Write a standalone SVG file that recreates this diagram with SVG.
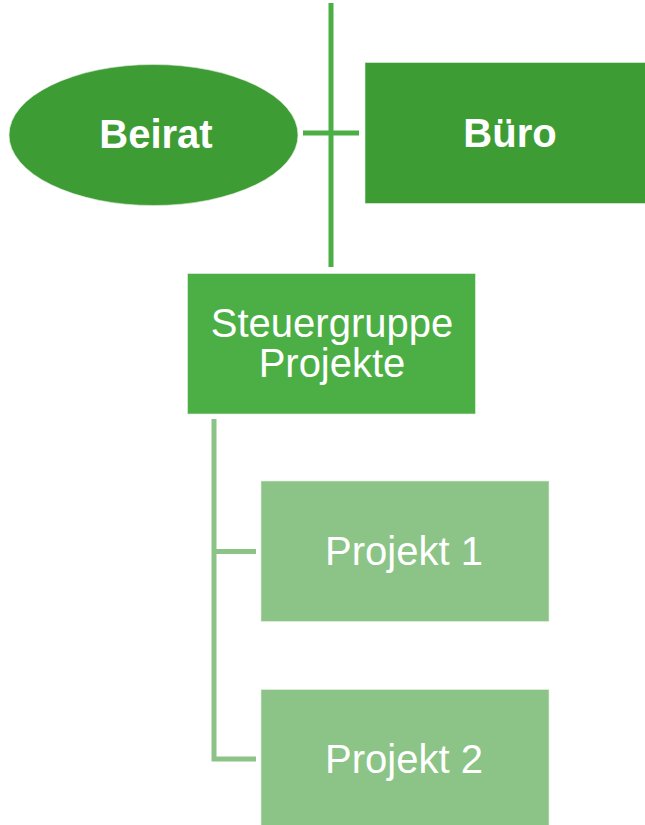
<svg xmlns="http://www.w3.org/2000/svg" width="645" height="825" viewBox="0 0 645 825">
  <style>
    .lbl { font-family: "Liberation Sans", Arial, sans-serif; fill: #ffffff; text-anchor: middle; font-size: 40px; }
    .bold { font-weight: bold; }
    .dark { fill: #3e9c35; stroke: #e6f2e4; stroke-width: 1; stroke-opacity: 0.6; }
    .mid { fill: #4caf46; stroke: #e6f2e4; stroke-width: 1; stroke-opacity: 0.6; }
    .light { fill: #8bc486; stroke: #e6f2e4; stroke-width: 1; stroke-opacity: 0.6; }
    .wire-mid { stroke: #4caf46; stroke-width: 5; fill: none; }
    .wire-light { stroke: #8bc486; stroke-width: 5; fill: none; }
  </style>

  <!-- connectors -->
  <g id="connectors">
    <line class="wire-mid" x1="331" y1="3" x2="331" y2="267"/>
    <line class="wire-mid" x1="303" y1="133" x2="359" y2="133"/>
    <path class="wire-light" d="M214 419 V759 H256 M214 551.5 H256"/>
  </g>

  <g id="beirat">
    <ellipse class="dark" cx="153.5" cy="135" rx="144.5" ry="70.5"/>
    <text class="lbl bold" x="156" y="148">Beirat</text>
  </g>

  <g id="buero">
    <rect class="dark" x="365" y="62.5" width="295" height="141"/>
    <text class="lbl bold" x="510" y="147">Büro</text>
  </g>

  <g id="steuergruppe">
    <rect class="mid" x="187.5" y="273.5" width="288" height="140.5"/>
    <text class="lbl" x="332" y="337">Steuergruppe</text>
    <text class="lbl" x="332" y="377">Projekte</text>
  </g>

  <g id="projekt1">
    <rect class="light" x="261" y="481" width="288" height="140.5"/>
    <text class="lbl" x="404" y="565">Projekt 1</text>
  </g>

  <g id="projekt2">
    <rect class="light" x="261" y="689.5" width="288" height="145"/>
    <text class="lbl" x="404" y="773">Projekt 2</text>
  </g>
</svg>
